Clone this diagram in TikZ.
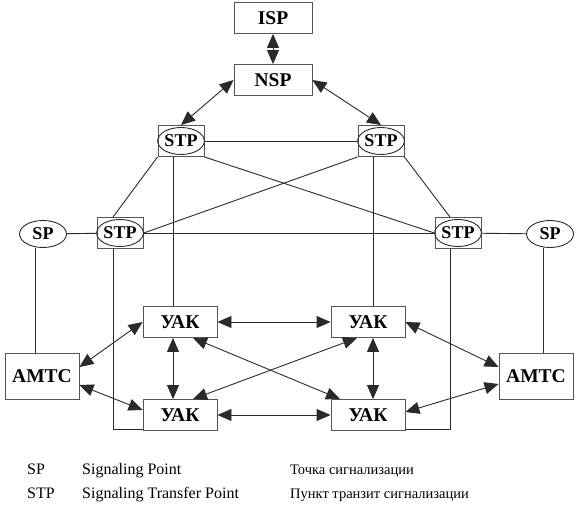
\documentclass[tikz,border=0pt]{standalone}
\usepackage{fontspec}
\setmainfont{Liberation Serif}
\usetikzlibrary{arrows.meta,positioning,shapes.geometric}
\definecolor{lnGray}{HTML}{2A2A2A}
\definecolor{bxGray}{HTML}{555555}

\begin{document}
\begin{tikzpicture}[x=1pt,y=-1pt,>={Triangle[length=14pt,width=12pt]},
  blk/.style={draw=bxGray,line width=0.9pt,rectangle,inner sep=0pt,font=\bfseries\fontsize{19.5}{22}\selectfont},
  sqr/.style={draw=bxGray,line width=0.9pt,rectangle,minimum width=46pt,minimum height=31pt,inner sep=0pt},
  oval/.style={draw=lnGray,line width=0.9pt,ellipse,minimum width=45pt,minimum height=27pt,inner sep=0pt,font=\bfseries\fontsize{18}{20}\selectfont},
  lnk/.style={draw=lnGray,line width=0.9pt},
  legtxt/.style={anchor=base west,inner sep=0pt,font=\fontsize{16}{19}\selectfont},
  legru/.style={legtxt,font=\fontsize{14.5}{19}\selectfont}]
    \useasboundingbox (0,0) rectangle (579,514);
    % top of the hierarchy
    \node[blk,minimum width=78pt,minimum height=31pt] (isp) at (273,18) {ISP};
    \node[blk,minimum width=78pt,minimum height=31pt] (nsp) at (273,80) {NSP};
    % transfer points
    \node[sqr] (stpA) at (181,141) {};
    \node[oval] (ovA) at (181,141) {STP};
    \node[sqr] (stpB) at (381,141) {};
    \node[oval] (ovB) at (381,141) {STP};
    \node[sqr] (stpC) at (120,233) {};
    \node[oval] (ovC) at (120,233) {STP};
    \node[sqr] (stpD) at (458,233) {};
    \node[oval] (ovD) at (458,233) {STP};
    \node[oval,minimum width=47pt] (spL) at (43,234) {SP};
    \node[oval,minimum width=47pt] (spR) at (550,234) {SP};
    % exchanges
    \node[blk,minimum width=74pt,minimum height=31pt] (uak1) at (180,322) {УАК};
    \node[blk,minimum width=74pt,minimum height=31pt] (uak2) at (368,322) {УАК};
    \node[blk,minimum width=74pt,minimum height=31pt] (uak3) at (180,415) {УАК};
    \node[blk,minimum width=74pt,minimum height=31pt] (uak4) at (368,415) {УАК};
    \node[blk,minimum width=74pt,minimum height=46pt] (amtcL) at (42,376) {АМТС};
    \node[blk,minimum width=74pt,minimum height=46pt] (amtcR) at (536,376) {АМТС};

    % signalling links
    \draw[lnk,<->] (isp) -- (nsp);
    \draw[lnk,<->] (nsp.west) -- (stpA.north);
    \draw[lnk,<->] (nsp.east) -- (stpB.north);
    \draw[lnk] (ovA) -- (ovB);
    \draw[lnk] (stpA.south east) -- (ovD.west);
    \draw[lnk] (stpB.south west) -- (ovC.east);
    \draw[lnk] (stpA.south west) -- ([xshift=-7pt]stpC.north);
    \draw[lnk] (stpB.south east) -- ([xshift=-8pt]stpD.north);
    \draw[lnk] (ovC) -- (ovD);
    \draw[lnk] (spL) -- (ovC);
    \draw[lnk] (spR) -- (ovD);
    \draw[lnk] ([xshift=-8pt]stpA.south) -- ([xshift=-7pt]uak1.north);
    \draw[lnk] ([xshift=-8pt]stpB.south) -- ([xshift=5pt]uak2.north);
    \draw[lnk] ([xshift=-7pt]stpC.south) |- ([yshift=-14pt]uak3.west);
    \draw[lnk] ([xshift=-8pt]stpD.south) |- ([yshift=-14pt]uak4.east);
    \draw[lnk] ([xshift=-8pt]spL.south) -- ([xshift=-7pt]amtcL.north);
    \draw[lnk] ([xshift=-7pt]spR.south) -- ([xshift=7pt]amtcR.north);

    % voice trunks
    \draw[lnk,<->] ([yshift=9pt]amtcL.east) -- (uak1.west);
    \draw[lnk,<->] ([yshift=-9pt]amtcL.east) -- ([yshift=5pt]uak3.west);
    \draw[lnk,<->] (uak2.east) -- ([yshift=9pt]amtcR.west);
    \draw[lnk,<->] ([yshift=3pt]uak4.east) -- ([yshift=-8pt]amtcR.west);
    \draw[lnk,<->] (uak1) -- (uak2);
    \draw[lnk,<->] (uak3) -- (uak4);
    \draw[lnk,<->] ([xshift=-7pt]uak1.south) -- ([xshift=-7pt]uak3.north);
    \draw[lnk,<->] ([xshift=5pt]uak2.south) -- ([xshift=5pt]uak4.north);
    \draw[lnk,<->] ([xshift=13pt]uak1.south) -- ([xshift=-28pt]uak4.north);
    \draw[lnk,<->] ([xshift=-11pt]uak2.south) -- ([xshift=13pt]uak3.north);

    % legend
    \node[legtxt] (kSP) at (27,474) {SP};
    \node[legtxt] (dSP) at (82,474) {Signaling Point};
    \node[legru] (rSP) at (290,474) {Точка сигнализации};
    \node[legtxt] (kSTP) at (27,498) {STP};
    \node[legtxt] (dSTP) at (82,498) {Signaling Transfer Point};
    \node[legru] (rSTP) at (290,498) {Пункт транзит сигнализации};
  \end{tikzpicture}
\end{document}
